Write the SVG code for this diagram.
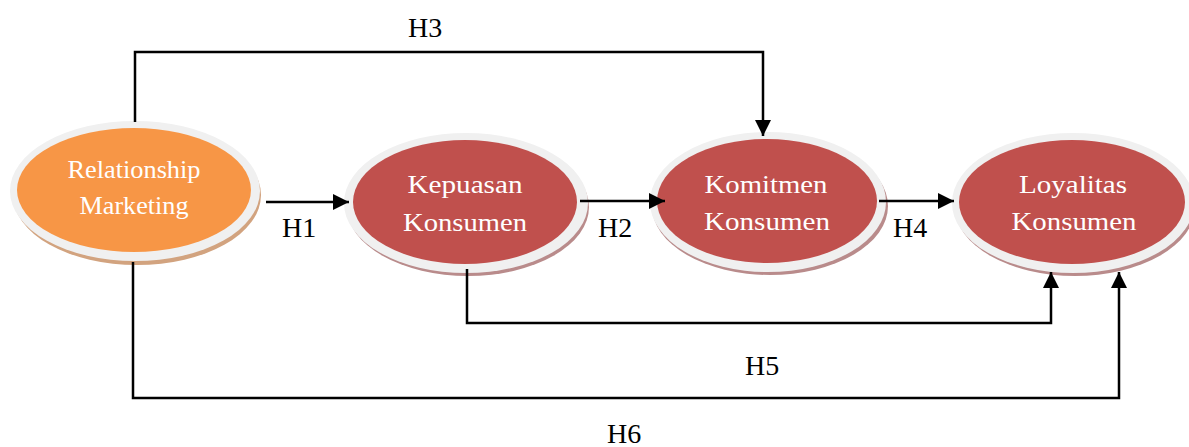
<svg xmlns="http://www.w3.org/2000/svg" width="1189" height="447" viewBox="0 0 1189 447">
<style>
.lbl{font-family:"Liberation Serif","Times New Roman",serif;font-size:28px;fill:#000}
.nt{font-family:"Liberation Serif","Times New Roman",serif;font-size:25px;fill:#fff;text-anchor:middle}
.ring{fill:#f0f0f0}
.shr{fill:#b98b8b}
.sho{fill:#d2a37f}
.red{fill:#c0504d}
.org{fill:#f79646}
.ln{fill:none;stroke:#000;stroke-width:2.5}
</style>
<defs>
<marker id="ah" viewBox="0 0 10 10" refX="10" refY="5" markerWidth="16" markerHeight="16" markerUnits="userSpaceOnUse" orient="auto">
<path d="M0,0 L10,5 L0,10 Z" fill="#000"/>
</marker>
</defs>
<g id="node-relationship">
<ellipse class="sho" cx="137" cy="195" rx="124" ry="70"/>
<ellipse class="ring" cx="135" cy="191" rx="125" ry="70"/>
<ellipse class="org" cx="134" cy="190" rx="117" ry="62"/>
<text class="nt" x="134" y="178" textLength="133" lengthAdjust="spacingAndGlyphs">Relationship</text>
<text class="nt" x="134" y="214" textLength="109" lengthAdjust="spacingAndGlyphs">Marketing</text>
</g>
<g id="node-kepuasan">
<ellipse class="shr" cx="468" cy="207" rx="121" ry="69"/>
<ellipse class="ring" cx="466" cy="203" rx="122" ry="70"/>
<ellipse class="red" cx="465" cy="202" rx="112" ry="62"/>
<text class="nt" x="465" y="193" textLength="115" lengthAdjust="spacingAndGlyphs">Kepuasan</text>
<text class="nt" x="465" y="231" textLength="124" lengthAdjust="spacingAndGlyphs">Konsumen</text>
</g>
<g id="node-komitmen">
<ellipse class="shr" cx="770" cy="206" rx="118" ry="69"/>
<ellipse class="ring" cx="768" cy="202" rx="118" ry="70"/>
<ellipse class="red" cx="767" cy="201" rx="110" ry="62"/>
<text class="nt" x="766" y="193" textLength="123" lengthAdjust="spacingAndGlyphs">Komitmen</text>
<text class="nt" x="767" y="230" textLength="126" lengthAdjust="spacingAndGlyphs">Konsumen</text>
</g>
<g id="node-loyalitas">
<ellipse class="shr" cx="1075" cy="207" rx="120" ry="69"/>
<ellipse class="ring" cx="1073" cy="203" rx="121" ry="70"/>
<ellipse class="red" cx="1072" cy="202" rx="113" ry="62"/>
<text class="nt" x="1073" y="193" textLength="108" lengthAdjust="spacingAndGlyphs">Loyalitas</text>
<text class="nt" x="1074" y="230" textLength="125" lengthAdjust="spacingAndGlyphs">Konsumen</text>
</g>
<g id="connectors">
<path class="ln" d="M135,122 V52 H763 V136" marker-end="url(#ah)"/>
<path class="ln" d="M266,202 H349" marker-end="url(#ah)"/>
<path class="ln" d="M580,201 H665" marker-end="url(#ah)"/>
<path class="ln" d="M879,201 H954" marker-end="url(#ah)"/>
<path class="ln" d="M467,269 V323 H1051 V272" marker-end="url(#ah)"/>
<path class="ln" d="M133,262 V398 H1119 V272" marker-end="url(#ah)"/>
<text class="lbl" x="408" y="37">H3</text>
<text class="lbl" x="282" y="237">H1</text>
<text class="lbl" x="598" y="237">H2</text>
<text class="lbl" x="893" y="237">H4</text>
<text class="lbl" x="745" y="375">H5</text>
<text class="lbl" x="607" y="443">H6</text>
</g>
</svg>
